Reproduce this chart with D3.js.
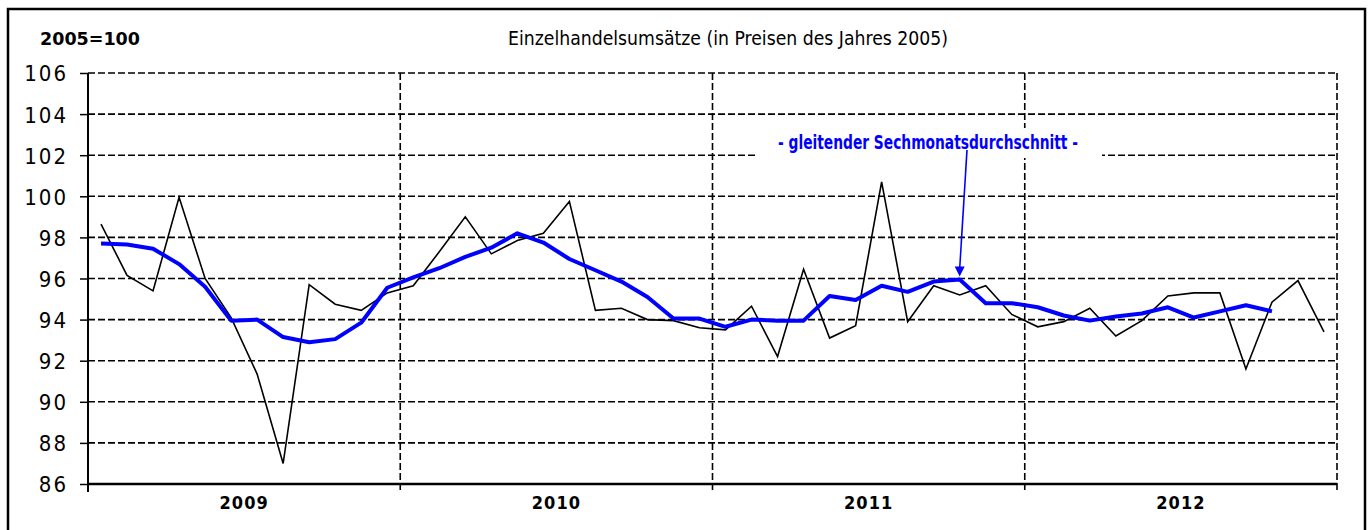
<!DOCTYPE html>
<html>
<head>
<meta charset="utf-8">
<script src="https://cdn.jsdelivr.net/npm/d3@7"></script>
<style>
  html, body { margin: 0; padding: 0; background: #fff; }
  svg { display: block; }
  text { font-family: "DejaVu Sans Condensed", "DejaVu Sans", sans-serif; fill: #000; }
</style>
</head>
<body>
<svg id="chart" width="1368" height="530"></svg>
<script>
// ---- data ----
const years = ["2009", "2010", "2011", "2012"];
const monthsPerYear = 12;
const yTicks = [86, 88, 90, 92, 94, 96, 98, 100, 102, 104, 106];
const unitLabel = "2005=100";
const titleText = "Einzelhandelsumsätze (in Preisen des Jahres 2005)";
const annotationText = "- gleitender Sechmonatsdurchschnitt -";
const annotationIndex = 33; // Oct 2011 point of the moving average

// monthly retail sales index (Jan 2009 .. Dec 2012)
const sales = [
  98.65, 96.15, 95.4, 99.95, 96.0, 94.1, 91.35, 87.0, 95.7, 94.75, 94.45, 95.3,
  95.65, 97.3, 99.0, 97.2, 97.85, 98.2, 99.75, 94.45, 94.55, 94.0, 93.95, 93.6,
  93.5, 94.65, 92.2, 96.45, 93.1, 93.7, 100.7, 93.9, 95.65, 95.2, 95.65, 94.25,
  93.65, 93.9, 94.55, 93.2, 93.95, 95.15, 95.3, 95.3, 91.6, 94.85, 95.9, 93.4
];
// six-month moving average (Jan 2009 .. Oct 2012)
const movingAvg = [
  97.7, 97.65, 97.45, 96.7, 95.6, 93.95, 94.0, 93.15, 92.9, 93.05, 93.85, 95.55,
  96.05, 96.5, 97.05, 97.5, 98.2, 97.75, 96.95, 96.4, 95.85, 95.1, 94.05, 94.05,
  93.65, 94.0, 93.95, 93.95, 95.15, 94.95, 95.65, 95.35, 95.85, 95.95, 94.8, 94.8,
  94.6, 94.2, 93.95, 94.15, 94.3, 94.6, 94.1, 94.4, 94.7, 94.4
];

// ---- layout ----
const svg = d3.select("#chart");
const pLeft = 88, pRight = 1337, pTop = 73, pBottom = 484;
const nMonths = years.length * monthsPerYear;

const x = d3.scaleLinear().domain([0, nMonths]).range([pLeft, pRight]);
const y = d3.scaleLinear().domain([86, 106]).range([pBottom, pTop]);
const xYear = d3.scaleBand().domain(years).range([pLeft, pRight]);

// frame
svg.append("rect")
  .attr("x", 8).attr("y", 9).attr("width", 1357).attr("height", 540)
  .attr("fill", "none").attr("stroke", "#000").attr("stroke-width", 2.5);

// horizontal dashed grid
svg.append("g")
  .selectAll("line")
  .data(yTicks.filter(d => d !== 86))
  .join("line")
  .attr("x1", pLeft).attr("x2", pRight)
  .attr("y1", d => y(d)).attr("y2", d => y(d))
  .attr("stroke", "#000").attr("stroke-width", 1.6)
  .attr("stroke-dasharray", "7,3");

// vertical dashed year separators
const yearBounds = d3.range(1, years.length + 1).map(k => k * monthsPerYear);
svg.append("g")
  .selectAll("line")
  .data(yearBounds)
  .join("line")
  .attr("x1", d => x(d)).attr("x2", d => x(d))
  .attr("y1", pTop).attr("y2", pBottom + 8)
  .attr("stroke", "#000").attr("stroke-width", 1.6)
  .attr("stroke-dasharray", "7,3");

// y axis
const yAxis = svg.append("g")
  .attr("transform", `translate(${pLeft},0)`)
  .call(d3.axisLeft(y).tickValues(yTicks).tickSize(8).tickPadding(12).tickFormat(d3.format("d")));
yAxis.select(".domain").remove();
yAxis.selectAll(".tick line").attr("stroke", "#000").attr("stroke-width", 1.5);
yAxis.selectAll(".tick text")
  .style("font-family", "'DejaVu Sans Condensed', sans-serif")
  .style("font-size", "22px").style("letter-spacing", "2px")
  .attr("fill", "#000").attr("dy", "0.36em");
svg.append("line")
  .attr("x1", pLeft).attr("x2", pLeft).attr("y1", pTop).attr("y2", pBottom + 8)
  .attr("stroke", "#000").attr("stroke-width", 2);

// x axis baseline
svg.append("line")
  .attr("x1", pLeft).attr("x2", pRight).attr("y1", pBottom).attr("y2", pBottom)
  .attr("stroke", "#000").attr("stroke-width", 2.5);

// year labels
const xAxis = svg.append("g")
  .attr("transform", `translate(0,${pBottom})`)
  .call(d3.axisBottom(xYear).tickSize(0).tickPadding(12));
xAxis.select(".domain").remove();
xAxis.selectAll(".tick text")
  .style("font-family", "'DejaVu Sans Condensed', sans-serif")
  .style("font-size", "18px").style("font-weight", "bold")
  .style("letter-spacing", "1px").attr("fill", "#000");

// lines
const line = d3.line().x((d, i) => x(i + 0.5)).y(d => y(d));
svg.append("path").datum(sales)
  .attr("d", line).attr("fill", "none")
  .attr("stroke", "#000").attr("stroke-width", 1.6).attr("stroke-linejoin", "miter");
svg.append("path").datum(movingAvg)
  .attr("d", line).attr("fill", "none")
  .attr("stroke", "#0000ff").attr("stroke-width", 4).attr("stroke-linejoin", "round");

// header texts
svg.append("text").attr("x", 40).attr("y", 45)
  .style("font-size", "17px").style("font-weight", "bold")
  .attr("textLength", 100).attr("lengthAdjust", "spacingAndGlyphs").text(unitLabel);
svg.append("text").attr("x", 728).attr("y", 45).attr("text-anchor", "middle")
  .style("font-size", "19px")
  .attr("textLength", 440).attr("lengthAdjust", "spacingAndGlyphs").text(titleText);

// annotation
const tipX = x(annotationIndex + 0.5), tipY = y(movingAvg[annotationIndex]) - 3;
svg.append("rect").attr("x", 755).attr("y", 128).attr("width", 347).attr("height", 30).attr("fill", "#fff");
svg.append("text").attr("x", 928).attr("y", 149).attr("text-anchor", "middle")
  .style("fill", "#0000ff")
  .style("font-size", "19px").style("font-weight", "bold")
  .attr("textLength", 300).attr("lengthAdjust", "spacingAndGlyphs")
  .text(annotationText);
svg.append("line")
  .attr("x1", 967).attr("y1", 150).attr("x2", tipX).attr("y2", tipY - 8)
  .attr("stroke", "#0000ff").attr("stroke-width", 1.6);
svg.append("path")
  .attr("d", `M${tipX - 5},${tipY - 10} L${tipX + 5},${tipY - 10} L${tipX},${tipY} Z`)
  .attr("fill", "#0000ff");
</script>
</body>
</html>
